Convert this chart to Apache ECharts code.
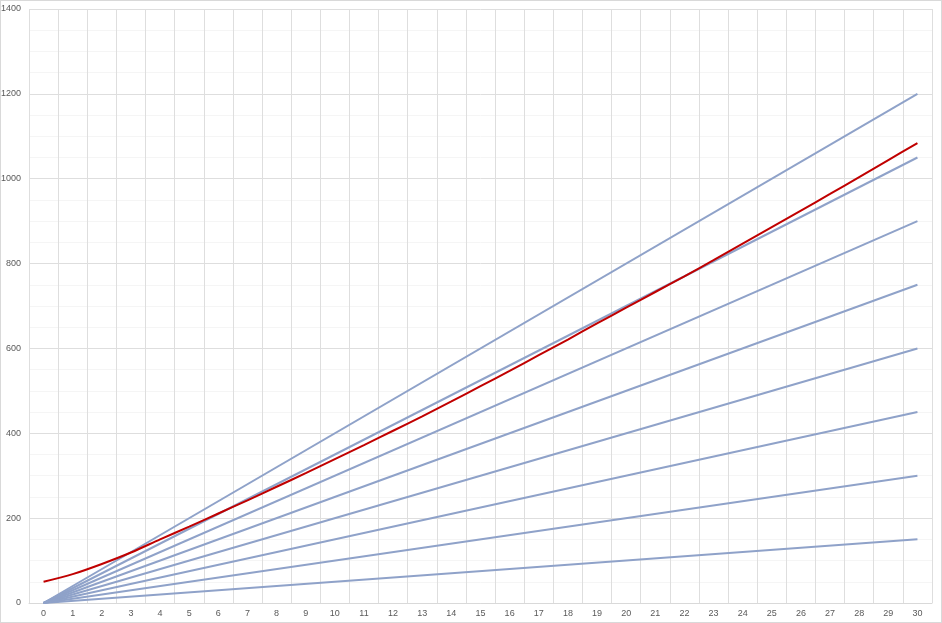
<!DOCTYPE html>
<html>
<head>
<meta charset="utf-8">
<script src="https://cdn.jsdelivr.net/npm/echarts@6/dist/echarts.min.js"></script>
<style>
  html, body { margin: 0; padding: 0; background: #fff; }
  #main { width: 942px; height: 623px; box-sizing: border-box; border: 1px solid #d9d9d9; }
</style>
</head>
<body>
<div id="main"></div>
<script>
// x categories 0..30
const categories = ['0','1','2','3','4','5','6','7','8','9','10','11','12','13','14','15',
  '16','17','18','19','20','21','22','23','24','25','26','27','28','29','30']

// straight blue lines: value at x=0 and at x=30
const blueStart = [0, 0, 0, 0, 0, 0, 0, 0]
const blueEnd = [150, 300, 450, 600, 750, 900, 1050, 1200]

// red curve, one value per category
const redValues = [50, 68, 92, 119, 150, 180, 211, 242, 274, 306, 339, 372, 406, 440, 475,
  511, 547, 584, 621, 659, 696, 733, 770, 808, 847, 886, 925, 964, 1004, 1044, 1084]

const chart = echarts.init(document.getElementById('main'))

const series = blueEnd.map((end, i) => ({
  type: 'line',
  data: [[0, blueStart[i]], [categories.length - 1, end]],
  symbol: 'none',
  silent: true,
  lineStyle: { color: '#8fa2c9', width: 2 }
}))
series.push({
  type: 'line',
  data: redValues,
  symbol: 'none',
  smooth: 0.3,
  silent: true,
  lineStyle: { color: '#c00000', width: 2 },
  z: 5
})

const option = {
  animation: false,
  grid: { left: 28, right: 9, top: 8, bottom: 19, outerBoundsMode: 'none' },
  xAxis: {
    type: 'category',
    data: categories,
    boundaryGap: true,
    axisLine: { lineStyle: { color: '#d9d9d9' } },
    axisTick: { show: false },
    axisLabel: { color: '#595959', fontSize: 9, margin: 6, interval: 0, fontFamily: 'Liberation Sans' },
    splitLine: { show: true, interval: 0, lineStyle: { color: '#dedede' } }
  },
  yAxis: {
    type: 'value',
    min: 0,
    max: 1400,
    interval: 200,
    axisLine: { show: false },
    axisTick: { show: false },
    axisLabel: { color: '#595959', fontSize: 9, margin: 8, fontFamily: 'Liberation Sans', formatter: v => String(v) },
    splitLine: { lineStyle: { color: '#dedede' } },
    minorTick: { show: false, splitNumber: 4 },
    minorSplitLine: { show: true, lineStyle: { color: '#f5f5f5' } }
  },
  series: series
}
chart.setOption(option)
</script>
</body>
</html>
